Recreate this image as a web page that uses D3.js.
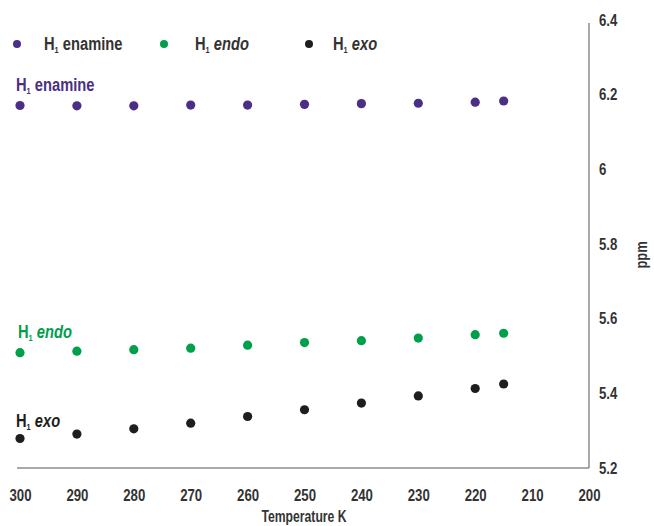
<!DOCTYPE html>
<html>
<head>
<meta charset="utf-8">
<script src="https://cdn.jsdelivr.net/npm/d3@7"></script>
<style>
  body { margin: 0; background: #fff; }
  svg text { font-family: "Liberation Sans", Arial, sans-serif; font-weight: bold; }
</style>
</head>
<body>
<svg width="654" height="526"></svg>
<script>
"use strict";

// temperatures (K) and chemical shifts (ppm)
const temps = [300, 290, 280, 270, 260, 250, 240, 230, 220, 215];
const enamine = [6.171, 6.170, 6.170, 6.172, 6.172, 6.174, 6.176, 6.177, 6.180, 6.183];
const endo = [5.509, 5.513, 5.517, 5.521, 5.529, 5.536, 5.541, 5.548, 5.557, 5.561];
const exo = [5.279, 5.291, 5.305, 5.320, 5.338, 5.356, 5.374, 5.393, 5.413, 5.425];

const xTicks = [300, 290, 280, 270, 260, 250, 240, 230, 220, 210, 200];
const yTicks = [5.2, 5.4, 5.6, 5.8, 6, 6.2, 6.4];

const seriesInfo = [
    {name: "enamine", italic: false, color: "#4b2e86", values: enamine},
    {name: "endo", italic: true, color: "#00a04b", values: endo},
    {name: "exo", italic: true, color: "#1e1e1e", values: exo}
];

const svg = d3.select("svg");

const x = d3.scaleLinear().domain([300, 200]).range([20, 589]);
const y = d3.scaleLinear().domain([5.2, 6.4]).range([468, 20]);

// no narrow font installed, so squeeze a normal one around its anchor point
function narrow(sel, k) {
    sel.each(function () {
        const t = d3.select(this);
        const ax = +(t.attr("x") || 0);
        const prev = t.attr("transform") || "";
        t.attr("transform", `${prev} translate(${ax},0) scale(${k},1) translate(${-ax},0)`);
    });
}

// frame: bottom line and right-hand axis
svg.append("line")
    .attr("x1", 17).attr("x2", x(200))
    .attr("y1", y(5.2)).attr("y2", y(5.2))
    .attr("stroke", "#555").attr("stroke-width", 1);

svg.append("line")
    .attr("x1", x(200)).attr("x2", x(200))
    .attr("y1", y(6.4) + 3).attr("y2", y(5.2))
    .attr("stroke", "#555").attr("stroke-width", 1);

const xAxis = svg.append("g")
    .attr("transform", `translate(0, ${y(5.2)})`)
    .call(d3.axisBottom(x).tickValues(xTicks).tickSize(0).tickPadding(21).tickFormat(d3.format("d")));
xAxis.select(".domain").remove();
xAxis.selectAll("text").attr("font-size", 16.5).attr("fill", "#333").attr("font-family", null).call(narrow, 0.8);

const yAxis = svg.append("g")
    .attr("transform", `translate(${x(200)}, 0)`)
    .call(d3.axisRight(y).tickValues(yTicks).tickSize(0).tickPadding(10).tickFormat(d => d3.format("")(d)));
yAxis.select(".domain").remove();
yAxis.selectAll("text").attr("font-size", 16.5).attr("fill", "#333").attr("font-family", null).call(narrow, 0.8);

svg.append("text")
    .attr("x", 304).attr("y", 522)
    .attr("text-anchor", "middle")
    .attr("font-size", 16.5).attr("fill", "#333")
    .text("Temperature K")
    .call(narrow, 0.74);

svg.append("text")
    .attr("transform", `translate(647, 255) rotate(-90)`)
    .attr("text-anchor", "middle")
    .attr("font-size", 16.5).attr("fill", "#333")
    .text("ppm")
    .call(narrow, 0.78);

// H1 label helper
function h1Label(g, s, size) {
    const t = g.append("text").attr("font-size", size).attr("fill", s.color);
    t.append("tspan").text("H");
    t.append("tspan").attr("font-size", size * 0.5).attr("dy", 3).text("1");
    t.append("tspan").attr("dy", -3).text("\u00a0");
    t.append("tspan").attr("font-style", s.italic ? "italic" : "normal").text(s.name);
    t.call(narrow, 0.84);
    return t;
}

// points
seriesInfo.forEach(s => {
    svg.append("g").selectAll("circle")
        .data(temps.map((t, i) => ({t: t, v: s.values[i]})))
        .join("circle")
        .attr("cx", d => x(d.t))
        .attr("cy", d => y(d.v))
        .attr("r", 4.6)
        .attr("fill", s.color);
});

// labels next to the series
const labelPos = [[16, 91], [18, 338], [16, 427]];
seriesInfo.forEach((s, i) => {
    h1Label(svg.append("g").attr("transform", `translate(${labelPos[i][0]}, ${labelPos[i][1]})`), s, 17.5);
});

// legend
const legendDotX = [17, 164, 309];
const legendTextX = [44, 195, 333];
seriesInfo.forEach((s, i) => {
    const g = svg.append("g");
    g.append("circle").attr("cx", legendDotX[i]).attr("cy", 44).attr("r", 4).attr("fill", s.color);
    const lab = h1Label(g.append("g").attr("transform", `translate(${legendTextX[i]}, 50)`), s, 17.5);
    lab.attr("fill", "#333");
});
</script>
</body>
</html>
